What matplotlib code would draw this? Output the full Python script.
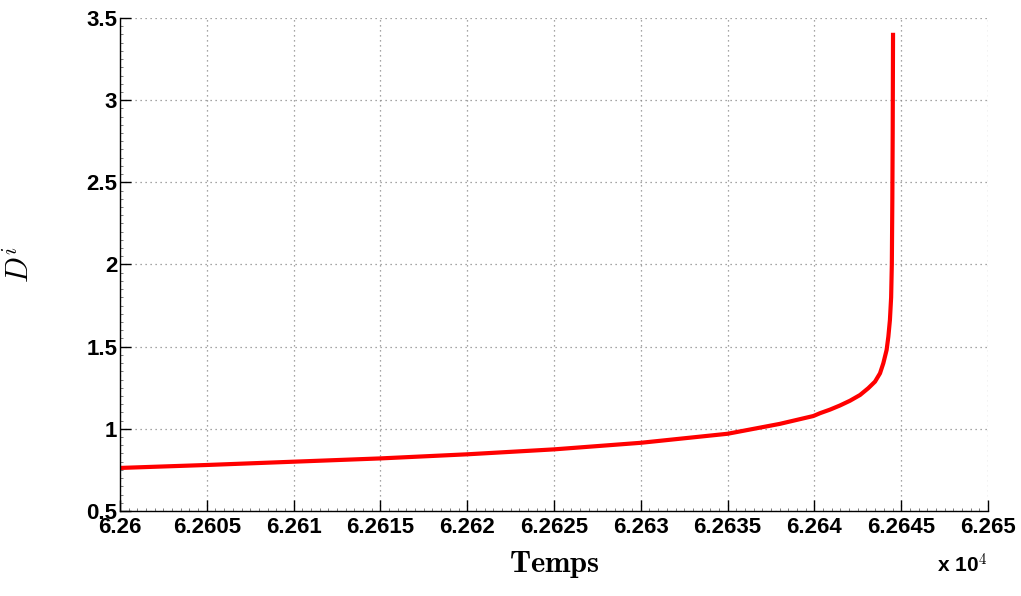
import matplotlib
matplotlib.use("Agg")
import matplotlib.pyplot as plt
from matplotlib.ticker import AutoMinorLocator

# Data
temps = [62600.0, 62605.0, 62610.0, 62615.0, 62620.0, 62625.0, 62630.0, 62635.0,
         62638.0, 62639.94, 62640.32, 62640.90, 62641.47, 62642.05, 62642.63,
         62643.10, 62643.49, 62643.78, 62643.97, 62644.16, 62644.26, 62644.35,
         62644.42, 62644.46, 62644.49, 62644.51, 62644.53]
di = [0.762, 0.78, 0.80, 0.82, 0.845, 0.875, 0.915, 0.97,
      1.03, 1.078, 1.095, 1.117, 1.142, 1.171, 1.206,
      1.247, 1.287, 1.338, 1.399, 1.48, 1.561, 1.662,
      1.8, 2.0, 2.4, 2.8, 3.41]

xticks = [62600, 62605, 62610, 62615, 62620, 62625, 62630, 62635, 62640, 62645, 62650]
xticklabels = ["6.26", "6.2605", "6.261", "6.2615", "6.262", "6.2625", "6.263",
               "6.2635", "6.264", "6.2645", "6.265"]
yticks = [0.5, 1, 1.5, 2, 2.5, 3, 3.5]
yticklabels = ["0.5", "1", "1.5", "2", "2.5", "3", "3.5"]

plt.rcParams['mathtext.fontset'] = 'cm'
plt.rcParams['font.family'] = ['Liberation Sans', 'DejaVu Sans']

fig = plt.figure(figsize=(10.21, 5.96), dpi=100)
ax = fig.add_axes([120 / 1021, 1 - 511 / 596, (988 - 120) / 1021, (511 - 18) / 596])

ax.plot(temps, di, color='#ff0000', lw=3, solid_joinstyle='round', solid_capstyle='butt')

ax.set_xlim(62600, 62650)
ax.set_ylim(0.5, 3.5)
ax.set_xticks(xticks)
ax.set_xticklabels(xticklabels, fontsize=16, fontweight='bold')
ax.set_yticks(yticks)
ax.set_yticklabels(yticklabels, fontsize=16, fontweight='bold')
ax.xaxis.set_minor_locator(AutoMinorLocator(10))
ax.yaxis.set_minor_locator(AutoMinorLocator(10))
ax.tick_params(which='major', direction='in', length=8, width=1, colors='black')
ax.tick_params(which='minor', direction='in', length=2, width=0.6, colors='#666666')
ax.tick_params(axis='x', which='major', pad=4)
ax.tick_params(axis='y', which='major', pad=2)

ax.grid(True, which='major', linestyle=(0, (1, 3)), color='#888888', linewidth=0.9)
for sp in ['top', 'right']:
    ax.spines[sp].set_visible(False)
for sp in ['left', 'bottom']:
    ax.spines[sp].set_linewidth(1.0)

ax.set_xlabel(r'$\mathbf{Temps}$', fontsize=22, labelpad=8)
ax.set_ylabel(r'$D^i$', fontsize=22, labelpad=36)

fig.text(987 / 1021, 1 - 573 / 596, r'x 10$^{\mathbf{4}}$', ha='right', va='baseline',
         fontsize=15, fontweight='bold')

fig.savefig('out.png', dpi=100)
